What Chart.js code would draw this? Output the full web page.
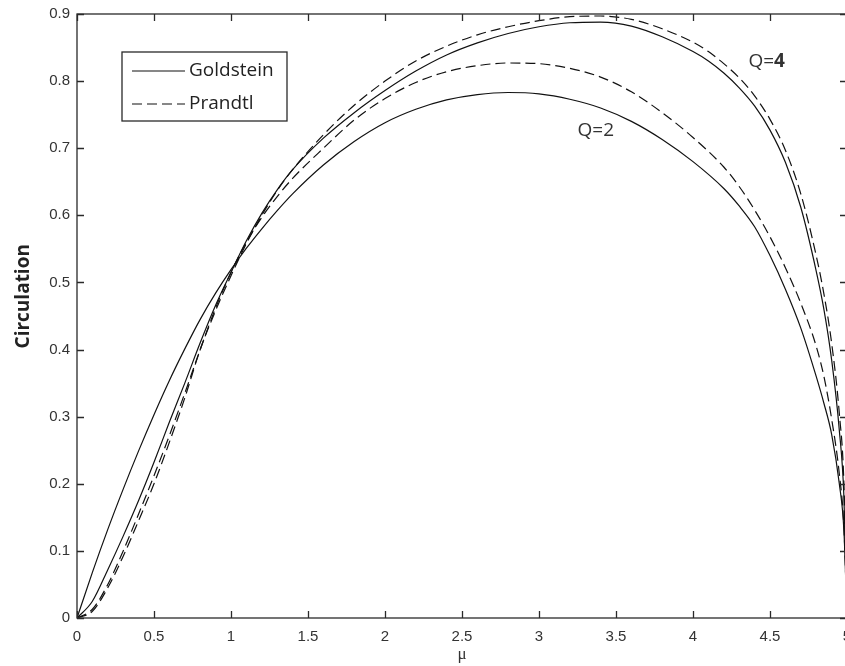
<!DOCTYPE html>
<html>
<head>
<meta charset="utf-8">
<script src="https://cdn.jsdelivr.net/npm/chart.js@4.4.1/dist/chart.umd.min.js"></script>
<style>
    html, body { margin: 0; padding: 0; background: #fff; overflow: hidden; }
    canvas { display: block; }
</style>
</head>
<body>
<canvas id="circChart" width="851" height="666"></canvas>
<script>
// Goldstein / Prandtl circulation
const muQ2Goldstein = [0, 0.1, 0.2, 0.3, 0.4, 0.5, 0.6, 0.7, 0.8, 0.9, 1.0, 1.1, 1.2, 1.3, 1.4, 1.6, 1.8, 2.0, 2.2, 2.4, 2.6, 2.8, 3.0, 3.2, 3.4, 3.6, 3.8, 4.0, 4.2, 4.3, 4.4, 4.5, 4.6, 4.7, 4.8, 4.85, 4.9, 4.95, 4.98, 5.0];
const circQ2Goldstein = [0, 0.068, 0.132, 0.192, 0.249, 0.303, 0.354, 0.401, 0.445, 0.484, 0.519, 0.551, 0.580, 0.607, 0.632, 0.675, 0.710, 0.738, 0.758, 0.772, 0.780, 0.783, 0.781, 0.773, 0.760, 0.740, 0.713, 0.680, 0.640, 0.614, 0.583, 0.540, 0.490, 0.432, 0.360, 0.320, 0.274, 0.200, 0.130, 0];

const muQ2Prandtl = [0, 0.1, 0.2, 0.3, 0.4, 0.5, 0.6, 0.7, 0.8, 0.9, 1.0, 1.1, 1.2, 1.3, 1.4, 1.6, 1.8, 2.0, 2.2, 2.4, 2.6, 2.8, 3.0, 3.2, 3.4, 3.6, 3.8, 4.0, 4.2, 4.3, 4.4, 4.5, 4.6, 4.7, 4.8, 4.85, 4.9, 4.95, 4.98, 5.0];
const circQ2Prandtl = [0, 0.013, 0.050, 0.100, 0.155, 0.212, 0.272, 0.335, 0.400, 0.462, 0.515, 0.560, 0.597, 0.628, 0.655, 0.700, 0.742, 0.774, 0.798, 0.814, 0.823, 0.827, 0.826, 0.819, 0.806, 0.784, 0.753, 0.716, 0.672, 0.643, 0.608, 0.568, 0.522, 0.469, 0.405, 0.360, 0.297, 0.215, 0.135, 0];

const muQ4Goldstein = [0, 0.1, 0.2, 0.3, 0.4, 0.5, 0.6, 0.7, 0.8, 0.9, 1.0, 1.1, 1.2, 1.3, 1.4, 1.6, 1.8, 2.0, 2.2, 2.4, 2.6, 2.8, 3.0, 3.2, 3.4, 3.6, 3.8, 4.0, 4.1, 4.2, 4.3, 4.4, 4.5, 4.6, 4.7, 4.8, 4.85, 4.9, 4.95, 4.98, 5.0];
const circQ4Goldstein = [0, 0.025, 0.072, 0.122, 0.175, 0.232, 0.292, 0.350, 0.410, 0.466, 0.515, 0.562, 0.603, 0.638, 0.668, 0.715, 0.753, 0.786, 0.815, 0.839, 0.857, 0.871, 0.881, 0.887, 0.888, 0.882, 0.866, 0.844, 0.830, 0.812, 0.790, 0.763, 0.727, 0.679, 0.612, 0.517, 0.460, 0.385, 0.280, 0.180, 0];

const muQ4Prandtl = [0, 0.1, 0.2, 0.3, 0.4, 0.5, 0.6, 0.7, 0.8, 0.9, 1.0, 1.1, 1.2, 1.3, 1.4, 1.6, 1.8, 2.0, 2.2, 2.4, 2.6, 2.8, 3.0, 3.2, 3.4, 3.6, 3.8, 4.0, 4.1, 4.2, 4.3, 4.4, 4.5, 4.6, 4.7, 4.8, 4.85, 4.9, 4.95, 4.98, 5.0];
const circQ4Prandtl = [0, 0.010, 0.045, 0.092, 0.145, 0.200, 0.262, 0.328, 0.400, 0.458, 0.510, 0.558, 0.600, 0.637, 0.668, 0.720, 0.764, 0.800, 0.830, 0.852, 0.869, 0.881, 0.890, 0.896, 0.897, 0.892, 0.878, 0.858, 0.844, 0.826, 0.805, 0.778, 0.743, 0.697, 0.632, 0.540, 0.483, 0.410, 0.305, 0.200, 0];

const legendLabels = ["Goldstein", "Prandtl"];
const legendDash = [[], [10, 5]];

// curve labels: text + where they sit (mu, circulation)
const annoPrefix = ["Q=", "Q="];
const annoValue = ["4", "2"];
const annoBold = [true, false];
const annoMu = [4.36, 3.25];
const annoCirc = [0.821, 0.718];

function toPoints(xs, ys) {
    return xs.map((v, i) => ({ x: v, y: ys[i] }));
}

function curve(label, xs, ys, dash) {
    return {
        label: label,
        data: toPoints(xs, ys),
        borderColor: "#111",
        borderWidth: 1.2,
        borderDash: dash,
        pointRadius: 0,
        cubicInterpolationMode: "monotone",
        fill: false,
    };
}

function tickText(value) {
    return String(Number(value.toFixed(2)));
}

// box + inward ticks like the matlab axes
const frameTicks = {
    id: "frameTicks",
    afterDraw(chart) {
        const { ctx, chartArea: a, scales: { x, y } } = chart;
        const len = 7;
        ctx.save();
        ctx.strokeStyle = "#2a2a2a";
        ctx.lineWidth = 1.3;
        ctx.strokeRect(a.left, a.top, a.right - a.left, a.bottom - a.top);
        ctx.beginPath();
        x.ticks.forEach((t) => {
            const px = Math.round(x.getPixelForValue(t.value)) + 0.5;
            ctx.moveTo(px, a.bottom);
            ctx.lineTo(px, a.bottom - len);
            ctx.moveTo(px, a.top);
            ctx.lineTo(px, a.top + len);
        });
        y.ticks.forEach((t) => {
            const py = Math.round(y.getPixelForValue(t.value)) + 0.5;
            ctx.moveTo(a.left, py);
            ctx.lineTo(a.left + len, py);
            ctx.moveTo(a.right, py);
            ctx.lineTo(a.right - len, py);
        });
        ctx.stroke();
        ctx.restore();
    },
};

const boxLegend = {
    id: "boxLegend",
    afterDraw(chart) {
        const { ctx, chartArea: a } = chart;
        const bx = a.left + 45, by = a.top + 38, bw = 165, bh = 69;
        ctx.save();
        ctx.fillStyle = "#fff";
        ctx.fillRect(bx, by, bw, bh);
        ctx.strokeStyle = "#2a2a2a";
        ctx.lineWidth = 1.3;
        ctx.strokeRect(bx, by, bw, bh);
        ctx.font = "19px 'Open Sans'";
        ctx.textBaseline = "middle";
        ctx.fillStyle = "#222";
        legendLabels.forEach((lab, i) => {
            const ly = by + 19 + i * 33;
            ctx.beginPath();
            ctx.lineWidth = 1.2;
            ctx.strokeStyle = "#111";
            ctx.setLineDash(legendDash[i]);
            ctx.moveTo(bx + 10, ly);
            ctx.lineTo(bx + 63, ly);
            ctx.stroke();
            ctx.setLineDash([]);
            ctx.fillText(lab, bx + 67, ly);
        });
        ctx.restore();
    },
};

const curveLabels = {
    id: "curveLabels",
    afterDraw(chart) {
        const { ctx, scales: { x, y } } = chart;
        ctx.save();
        ctx.fillStyle = "#333";
        ctx.textBaseline = "alphabetic";
        annoPrefix.forEach((pre, i) => {
            const px = x.getPixelForValue(annoMu[i]);
            const py = y.getPixelForValue(annoCirc[i]);
            ctx.font = "19px 'Open Sans'";
            ctx.fillText(pre, px, py);
            const w = ctx.measureText(pre).width;
            ctx.font = (annoBold[i] ? "bold " : "") + "19px 'Open Sans'";
            ctx.fillText(annoValue[i], px + w, py);
        });
        ctx.restore();
    },
};

const ctx = document.getElementById("circChart").getContext("2d");

const config = {
    type: "line",
    data: {
        datasets: [
            curve("Goldstein Q=2", muQ2Goldstein, circQ2Goldstein, []),
            curve("Prandtl Q=2", muQ2Prandtl, circQ2Prandtl, [10, 5]),
            curve("Goldstein Q=4", muQ4Goldstein, circQ4Goldstein, []),
            curve("Prandtl Q=4", muQ4Prandtl, circQ4Prandtl, [10, 5]),
        ],
    },
    options: {
        responsive: false,
        animation: false,
        layout: { padding: { top: 14, right: 4, left: 0, bottom: 0 } },
        plugins: {
            legend: { display: false },
            tooltip: { enabled: false },
        },
        scales: {
            x: {
                type: "linear",
                min: 0,
                max: 5,
                grid: { display: false, drawTicks: false },
                border: { display: false },
                ticks: {
                    stepSize: 0.5,
                    padding: 10,
                    maxRotation: 0,
                    color: "#333",
                    font: { family: "'Liberation Sans'", size: 15 },
                    callback: tickText,
                },
                title: {
                    display: true,
                    text: "\u03bc",
                    color: "#333",
                    font: { family: "'Liberation Serif'", size: 17 },
                    padding: { top: 0, bottom: 1 },
                },
                afterFit(scale) {
                    scale.height = 48;
                    scale.paddingRight = 0;
                    scale.paddingLeft = 0;
                },
            },
            y: {
                min: 0,
                max: 0.9,
                grid: { display: false, drawTicks: false },
                border: { display: false },
                ticks: {
                    stepSize: 0.1,
                    padding: 7,
                    color: "#333",
                    font: { family: "'Liberation Sans'", size: 15 },
                    callback: tickText,
                },
                title: {
                    display: true,
                    text: "\u00a0".repeat(8) + "Circulation",
                    color: "#222",
                    font: { family: "'Open Sans'", size: 19, weight: "bold" },
                    padding: { top: 12, bottom: 0 },
                },
                afterFit(scale) {
                    scale.width = 77;
                    scale.paddingTop = 0;
                    scale.paddingBottom = 0;
                },
            },
        },
    },
    plugins: [frameTicks, boxLegend, curveLabels],
};

const globalChart = new Chart(ctx, config);
</script>
</body>
</html>
